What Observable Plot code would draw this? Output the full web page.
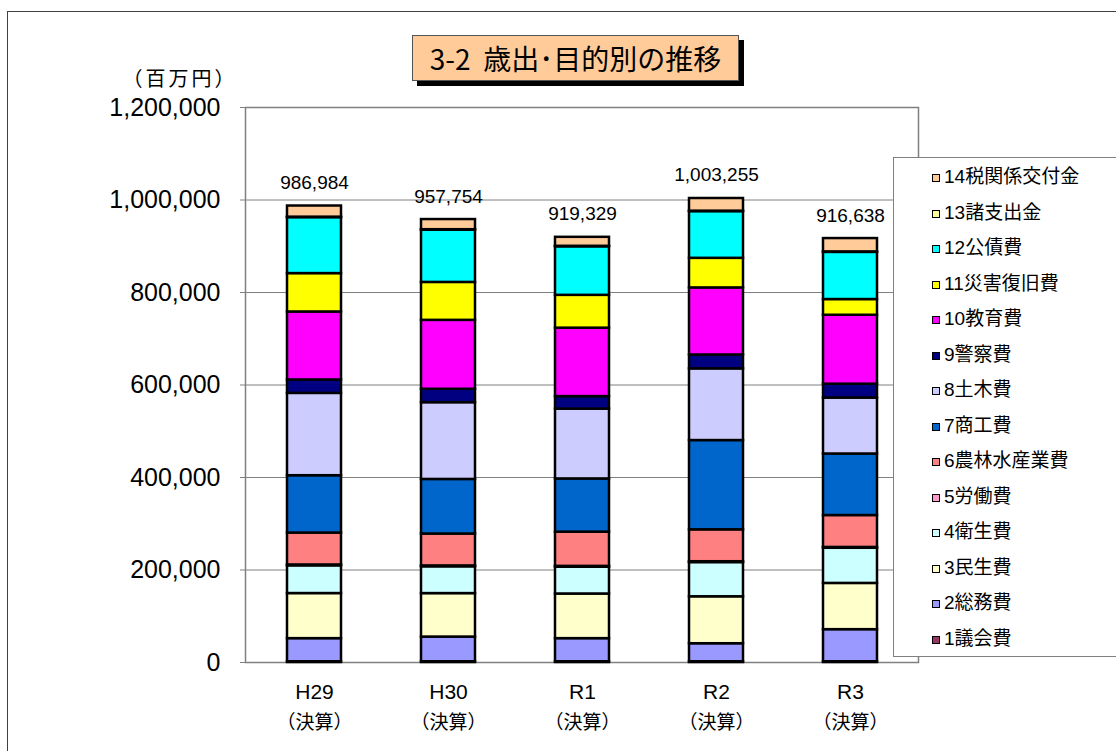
<!DOCTYPE html>
<html>
<head>
<meta charset="utf-8">
<script src="https://cdn.jsdelivr.net/npm/d3@7"></script>
<script src="https://cdn.jsdelivr.net/npm/@observablehq/plot@0.6"></script>
<style>
  html, body { margin: 0; padding: 0; background: #fff; overflow: hidden; }
  #wrap { position: relative; width: 1116px; height: 751px; overflow: hidden; font-family: "Liberation Sans", "Noto Sans CJK JP", sans-serif; color: #000; }
  #wrap svg { position: absolute; left: 0; top: 0; }
  #outer { position: absolute; left: 7px; top: 11px; right: -20px; bottom: -20px; border: 1px solid #404040; }
  #title { position: absolute; left: 412px; top: 35px; width: 325px; height: 44px; background: #FFCC99; border: 1px solid #555; box-shadow: 5px 5px 0 #000; font-family: "Noto Sans CJK JP", sans-serif; font-size: 28px; font-weight: 400; line-height: 44px; text-align: center; white-space: pre; }
  #unit { position: absolute; left: 118px; top: 63px; width: 124px; text-align: center; font-family: "Noto Sans CJK JP", sans-serif; font-size: 20px; letter-spacing: 3px; line-height: 30px; white-space: nowrap; }
  #legend { position: absolute; left: 893px; top: 157px; width: 300px; height: 498px; background: #fff; border: 1px solid #808080; }
  .li { position: absolute; left: 38px; height: 30px; line-height: 30px; font-size: 19px; white-space: nowrap; font-family: "Liberation Sans", "Noto Sans CJK JP", sans-serif; }
  .sw { display: inline-block; width: 6px; height: 6px; border: 1.5px solid #000; margin-right: 4px; vertical-align: 1px; }
</style>
</head>
<body>
<div id="wrap">
  <div id="outer"></div>
</div>
<script>
const years = ["H29", "H30", "R1", "R2", "R3"];
const subLabels = ["（決算）", "（決算）", "（決算）", "（決算）", "（決算）"];
const categories = ["1議会費", "2総務費", "3民生費", "4衛生費", "5労働費", "6農林水産業費", "7商工費", "8土木費", "9警察費", "10教育費", "11災害復旧費", "12公債費", "13諸支出金", "14税関係交付金"];
const colors = ["#993366", "#9999FF", "#FFFFCC", "#CCFFFF", "#FF99CC", "#FF8080", "#0066CC", "#CCCCFF", "#000080", "#FF00FF", "#FFFF00", "#00FFFF", "#FFFF99", "#FFCC99"];

// 百万円
const gikai        = [1600, 1600, 1600, 1600, 1600];
const somu         = [50000, 53400, 50000, 39000, 69400];
const minsei       = [97500, 94000, 96500, 101500, 100000];
const eisei        = [60000, 58000, 58000, 74000, 76000];
const rodo         = [1800, 1800, 1800, 1800, 1800];
const norin        = [69000, 69000, 74000, 69000, 69000];
const shoko        = [124000, 118000, 115000, 193000, 133000];
const doboku       = [178000, 166000, 151000, 155000, 121000];
const keisatsu     = [29000, 29000, 27000, 30000, 30000];
const kyoiku       = [147000, 149000, 148000, 145000, 149000];
const saigai       = [83000, 82000, 71000, 64000, 34000];
const kosai        = [121000, 113000, 105000, 101000, 102000];
const shoshishutsu = [1000, 1000, 1000, 1000, 1000];
const zeikankei    = [24084, 21954, 19429, 27355, 28838];

const yTicks = [0, 200000, 400000, 600000, 800000, 1000000, 1200000];

const series = [gikai, somu, minsei, eisei, rodo, norin, shoko, doboku, keisatsu, kyoiku, saigai, kosai, shoshishutsu, zeikankei];
const rows = [];
series.forEach((vals, ci) => vals.forEach((v, yi) => rows.push({year: years[yi], cat: categories[ci], value: v})));
const totals = years.map((y, yi) => ({year: y, total: d3.sum(series, s => s[yi])}));
const fmt = d3.format(",");

const chart = Plot.plot({
  width: 1116,
  height: 751,
  marginLeft: 245,
  marginRight: 198,
  marginTop: 107,
  marginBottom: 89,
  style: {fontFamily: "'Liberation Sans', 'Noto Sans CJK JP', sans-serif", background: "transparent", color: "#000"},
  x: {domain: years, paddingInner: 0.6, paddingOuter: 0.3, label: null},
  y: {domain: [0, 1200000], label: null},
  color: {domain: categories, range: colors, legend: false},
  marks: [
    Plot.gridY(yTicks, {stroke: "#808080", strokeOpacity: 1, strokeWidth: 1}),
    Plot.frame({stroke: "#808080", strokeWidth: 1.5}),
    Plot.axisY(yTicks, {tickSize: 5, tickPadding: 20, fontSize: 25, tickFormat: fmt, label: null, stroke: "#808080"}),
    Plot.axisX({tickSize: 0, tickPadding: 22, fontSize: 21, label: null}),
    Plot.axisX({tickSize: 0, tickPadding: 53, fontSize: 19, label: null, fontFamily: "'Noto Sans CJK JP', sans-serif", tickFormat: d => subLabels[years.indexOf(d)]}),
    Plot.barY(rows, {x: "year", y: "value", fill: "cat", stroke: "#000", strokeWidth: 2.5, order: null}),
    Plot.text(totals, {x: "year", y: "total", text: d => fmt(d.total), dy: -17, lineAnchor: "bottom", fontSize: 19})
  ]
});
const wrap = document.getElementById("wrap");
wrap.appendChild(chart);

const title = document.createElement("div");
title.id = "title";
title.textContent = "3-2  歳出･目的別の推移";
wrap.appendChild(title);

const unit = document.createElement("div");
unit.id = "unit";
unit.textContent = "（百万円）";
wrap.appendChild(unit);

const legend = document.createElement("div");
legend.id = "legend";
categories.slice().reverse().forEach((c, i) => {
  const item = document.createElement("div");
  item.className = "li";
  item.style.top = (4 + i * 35.5) + "px";
  const sw = document.createElement("span");
  sw.className = "sw";
  sw.style.background = colors[categories.indexOf(c)];
  item.appendChild(sw);
  item.appendChild(document.createTextNode(c));
  legend.appendChild(item);
});
wrap.appendChild(legend);
</script>
</body>
</html>
